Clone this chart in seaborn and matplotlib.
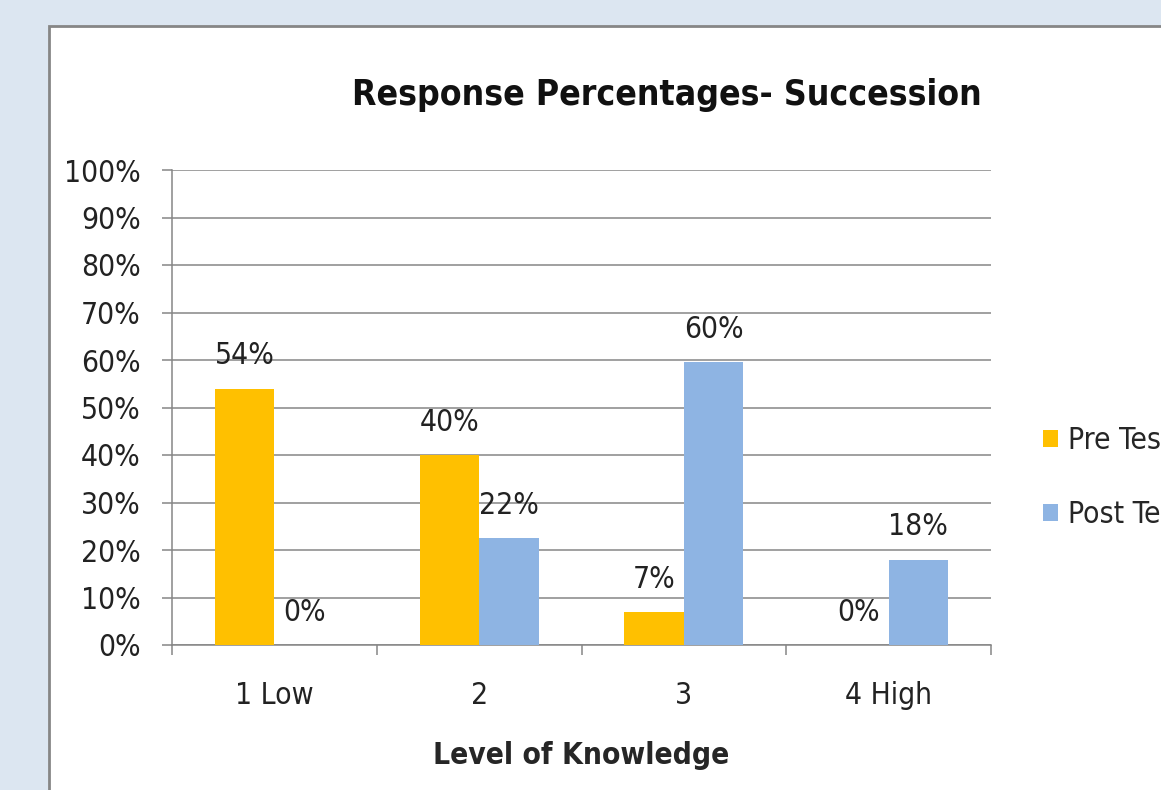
import pandas as pd
import matplotlib.pyplot as plt
import seaborn as sns
from matplotlib.patches import Rectangle
from matplotlib.ticker import MultipleLocator, FuncFormatter

# Data
levels = ['1 Low', '2', '3', '4 High']
pre_test = [54, 40, 7, 0]
post_test = [0, 22.5, 59.5, 18]
pre_labels = ['54%', '40%', '7%', '0%']
post_labels = ['0%', '22%', '60%', '18%']
series_names = ['Pre Test', 'Post Test']
colors = ['#FFC000', '#8EB4E3']

df = pd.DataFrame({
    'level': levels * 2,
    'pct': pre_test + post_test,
    'test': [series_names[0]] * 4 + [series_names[1]] * 4,
})

sns.set_theme(style='white')
plt.rcParams['font.family'] = ['DejaVu Sans']
plt.rcParams['font.stretch'] = 'condensed'

W, H = 1161, 790
fig = plt.figure(figsize=(W / 100, H / 100), dpi=100)
fig.patch.set_facecolor('#dce6f1')

# white chart panel with grey border
panel = Rectangle((49 / W, -0.02), 1.0, (H - 26) / H + 0.02, transform=fig.transFigure,
                  facecolor='white', edgecolor='#868686', linewidth=2, zorder=-10)
fig.patches.append(panel)

ax = fig.add_axes([172 / W, (H - 645) / H, (991 - 172) / W, (645 - 170) / H])
ax.set_facecolor('none')

sns.barplot(data=df, x='level', y='pct', hue='test', palette=colors, width=0.58,
            gap=0, saturation=1, errorbar=None, linewidth=0, ax=ax, zorder=3)

for cont, labs in zip(ax.containers, [pre_labels, post_labels]):
    ax.bar_label(cont, labels=labs, padding=13, fontsize=21.5, color='#222222')

ax.set_ylim(0, 100)
ax.set_xlim(-0.5, 3.5)
ax.yaxis.set_major_locator(MultipleLocator(10))
ax.yaxis.set_major_formatter(FuncFormatter(lambda v, p: f'{v:.0f}%'))
ax.grid(axis='y', color='#868686', linewidth=1.1, zorder=0)
ax.set_axisbelow(True)

for s in ['top', 'right']:
    ax.spines[s].set_visible(False)
for s in ['left', 'bottom']:
    ax.spines[s].set_color('#868686')
    ax.spines[s].set_linewidth(1.1)

ax.set_xticks([-0.5, 0.5, 1.5, 2.5, 3.5], minor=True)
ax.tick_params(axis='x', which='major', length=0, pad=26, labelsize=21.5, colors='#222222')
ax.tick_params(axis='x', which='minor', length=7.5, width=1.1, color='#868686', bottom=True)
ax.tick_params(axis='y', which='major', length=7.5, width=1.1, color='#868686', left=True,
               pad=15, labelsize=21.5, labelcolor='#222222')

ax.set_xlabel('Level of Knowledge', fontsize=21.5, fontweight='bold', labelpad=22)
ax.set_ylabel('')

fig.text(667 / W, (H - 95) / H, 'Response Percentages- Succession', ha='center', va='center',
         fontsize=25.5, fontweight='bold', color='#111111')

handles, labs = ax.get_legend_handles_labels()
ax.get_legend().remove()
fig.legend(handles, labs, loc='center left', bbox_to_anchor=(1043 / W, (H - 477.5) / H),
           frameon=False, fontsize=21.5, handlelength=0.5, handleheight=0.5,
           handletextpad=0.35, labelspacing=1.5, borderpad=0, borderaxespad=0)

fig.savefig('out.png', dpi=100, facecolor=fig.get_facecolor())
